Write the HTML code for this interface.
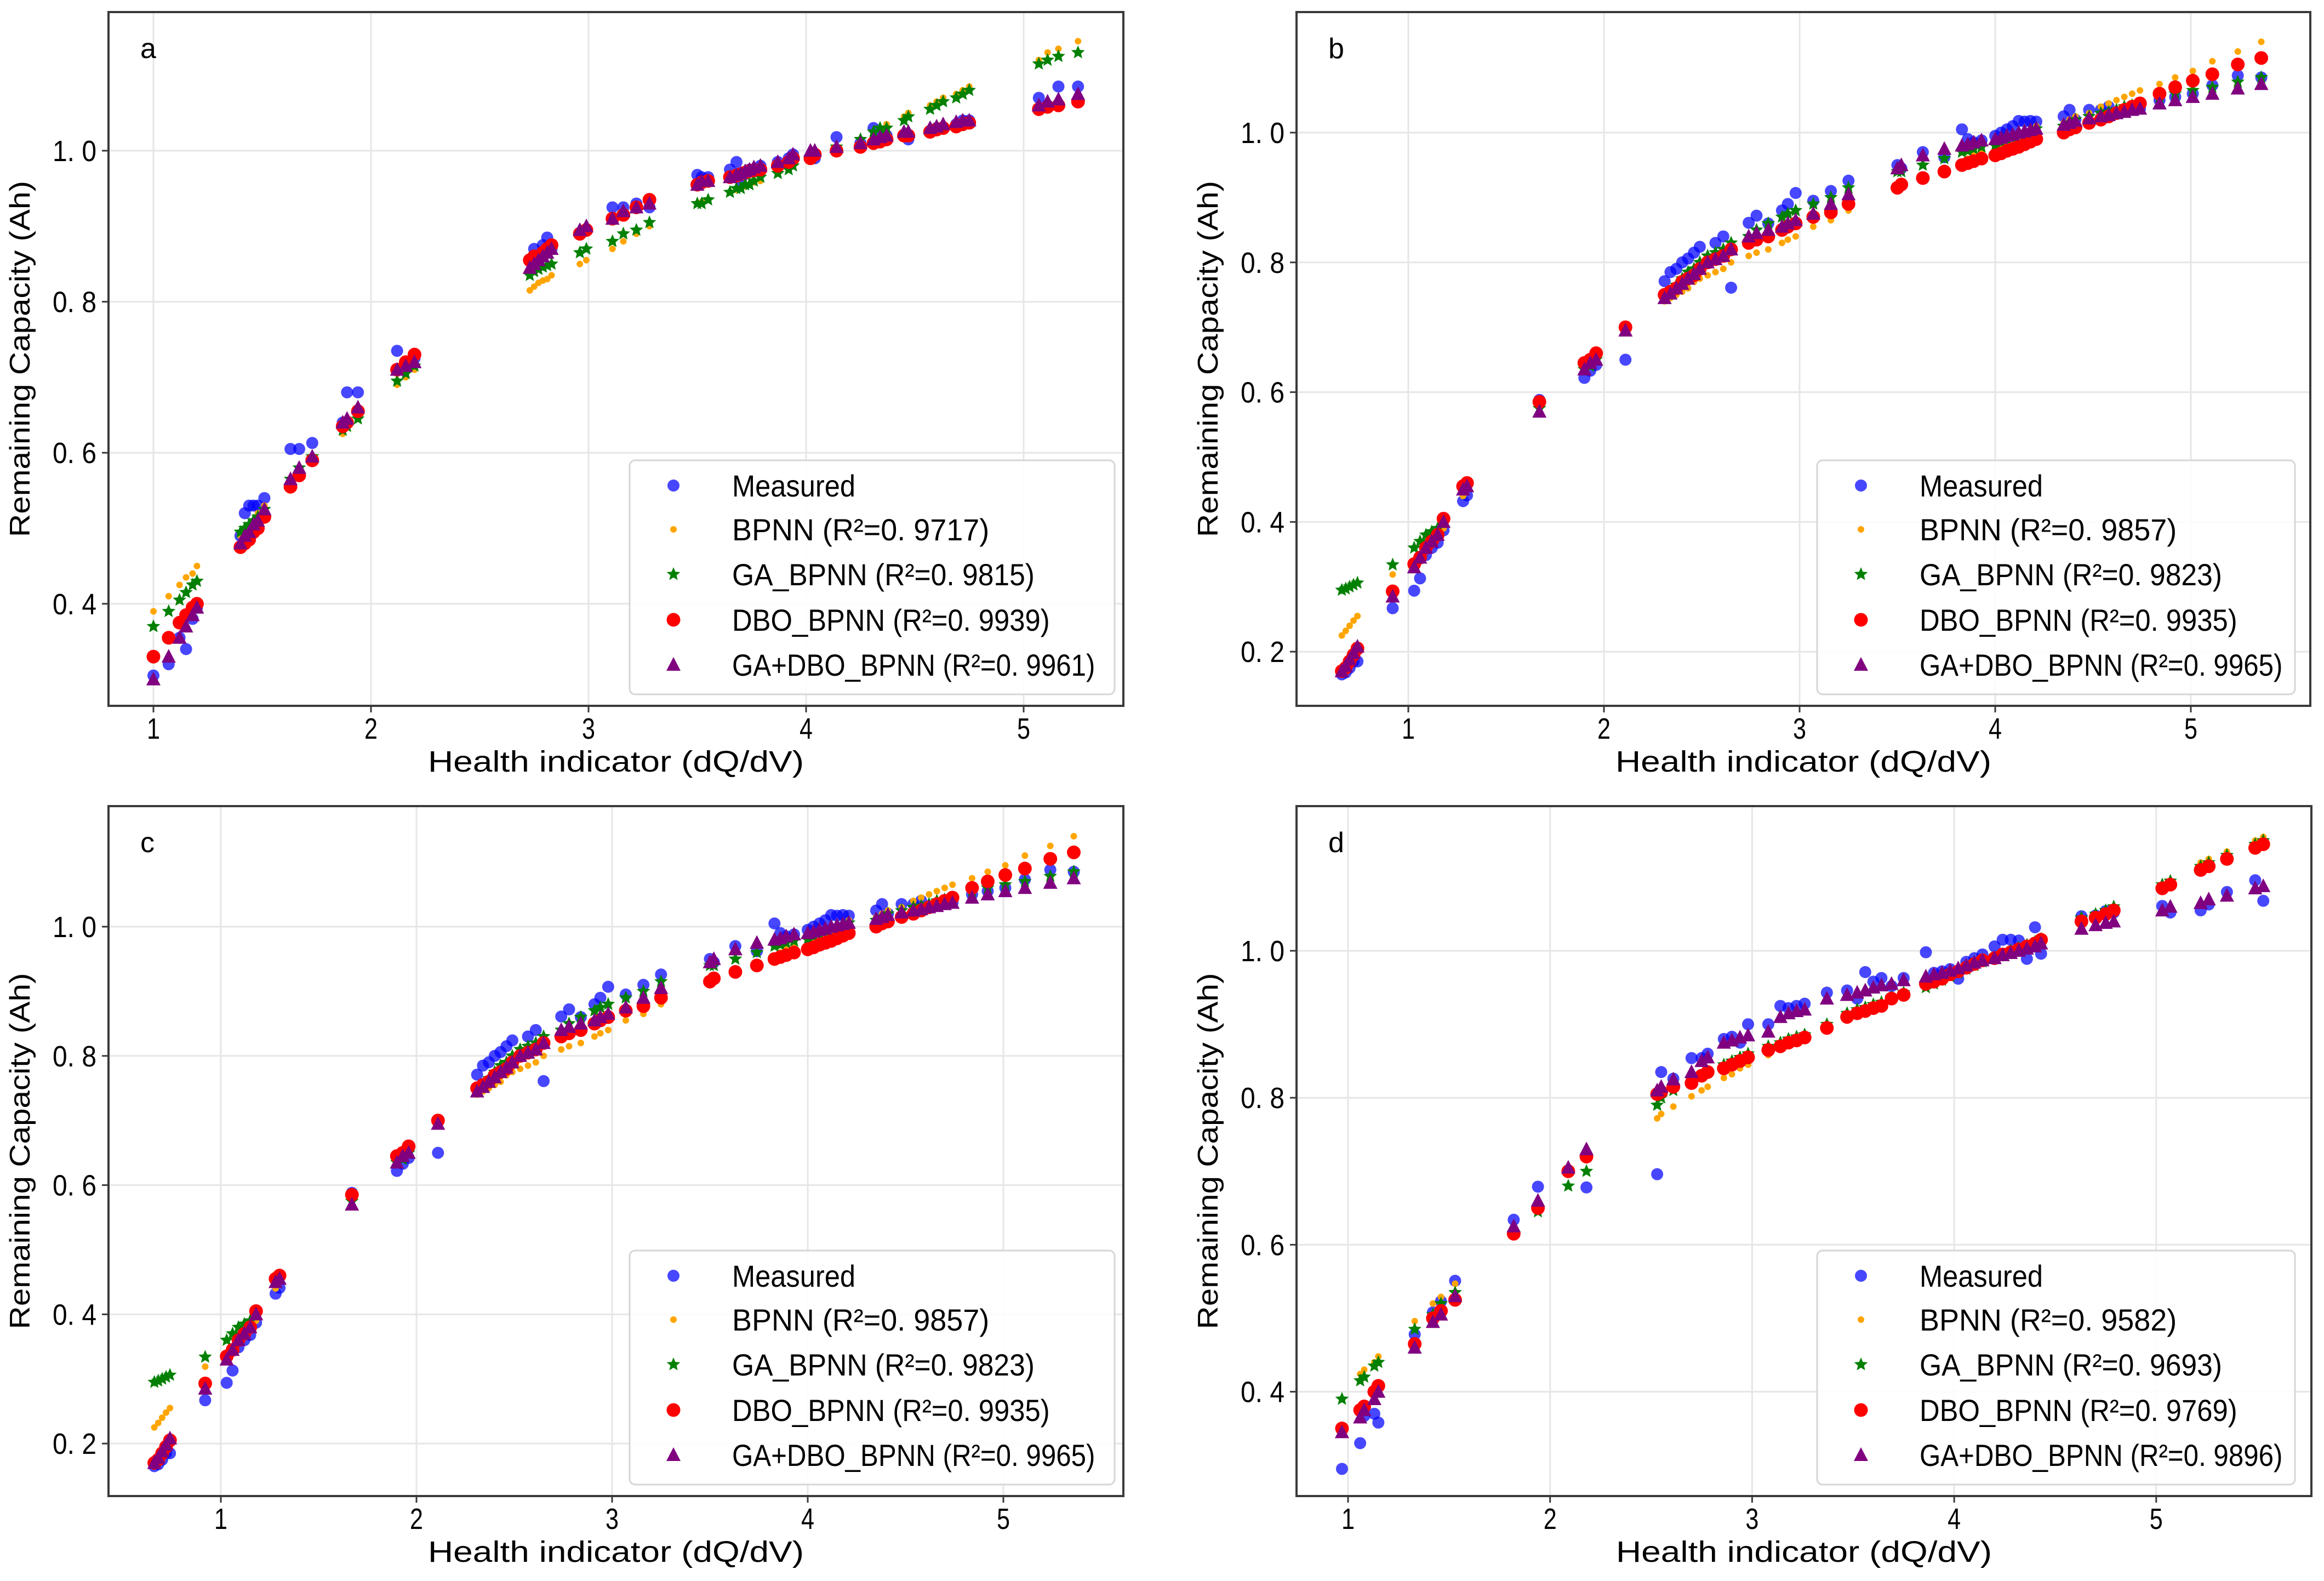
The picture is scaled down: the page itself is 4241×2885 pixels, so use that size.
<!DOCTYPE html>
<html><head><meta charset="utf-8">
<style>
html,body{margin:0;padding:0;background:#fff;}
svg{display:block;}
text{font-family:"Liberation Sans","Noto Sans CJK SC",sans-serif;fill:#000;}
</style></head>
<body>
<svg id="fig" xmlns="http://www.w3.org/2000/svg" width="4241" height="2885" viewBox="0 0 4241 2885"></svg>
<script>
// ---------- Panel a data ----------
const xA=[1.00,1.07,1.12,1.15,1.18,1.20,1.40,1.42,1.44,1.46,1.48,1.51,1.63,1.67,1.73,1.87,1.89,1.94,2.12,2.16,2.20,2.73,2.75,2.77,2.79,2.81,2.83,2.96,2.99,3.11,3.16,3.22,3.28,3.50,3.52,3.55,3.65,3.68,3.70,3.72,3.74,3.76,3.79,3.87,3.92,3.94,4.02,4.04,4.14,4.25,4.31,4.34,4.37,4.45,4.47,4.57,4.60,4.63,4.69,4.72,4.75,5.07,5.11,5.16,5.25];
const measA=[0.305,0.32,0.355,0.34,0.38,0.395,0.49,0.52,0.53,0.53,0.53,0.54,0.605,0.605,0.613,0.64,0.68,0.68,0.735,0.715,0.725,0.855,0.87,0.86,0.875,0.885,0.87,0.89,0.895,0.925,0.925,0.93,0.925,0.968,0.965,0.965,0.975,0.985,0.96,0.97,0.975,0.975,0.98,0.985,0.99,0.995,0.99,0.99,1.018,1.01,1.03,1.02,1.02,1.02,1.015,1.025,1.03,1.03,1.035,1.04,1.04,1.07,1.06,1.085,1.085];
const bpA=[0.39,0.41,0.425,0.435,0.44,0.45,0.49,0.50,0.505,0.51,0.52,0.53,0.565,0.58,0.595,0.625,0.635,0.65,0.69,0.70,0.71,0.815,0.82,0.825,0.828,0.83,0.835,0.85,0.855,0.87,0.88,0.89,0.90,0.93,0.932,0.935,0.945,0.948,0.95,0.953,0.955,0.958,0.96,0.97,0.975,0.98,0.99,0.995,1.005,1.015,1.025,1.03,1.035,1.045,1.05,1.06,1.065,1.07,1.075,1.08,1.085,1.12,1.13,1.135,1.145];
const gaA=[0.37,0.39,0.405,0.415,0.425,0.43,0.495,0.50,0.505,0.51,0.515,0.525,0.565,0.58,0.595,0.63,0.635,0.645,0.695,0.705,0.715,0.835,0.84,0.843,0.846,0.848,0.85,0.865,0.87,0.88,0.89,0.895,0.905,0.93,0.93,0.935,0.945,0.95,0.95,0.955,0.955,0.96,0.965,0.97,0.975,0.98,0.99,0.995,1.005,1.015,1.025,1.03,1.03,1.04,1.045,1.055,1.06,1.065,1.07,1.075,1.08,1.115,1.12,1.125,1.13];
const dboA=[0.33,0.355,0.375,0.385,0.395,0.40,0.475,0.48,0.485,0.495,0.50,0.515,0.555,0.57,0.59,0.635,0.64,0.655,0.71,0.72,0.73,0.855,0.86,0.86,0.865,0.87,0.875,0.89,0.895,0.91,0.915,0.925,0.935,0.955,0.958,0.96,0.965,0.967,0.969,0.971,0.973,0.974,0.975,0.98,0.985,0.99,0.99,0.995,1.0,1.005,1.01,1.012,1.015,1.02,1.02,1.025,1.028,1.03,1.032,1.035,1.037,1.055,1.058,1.06,1.065];
const gadA=[0.30,0.33,0.355,0.37,0.385,0.395,0.48,0.49,0.495,0.505,0.51,0.525,0.565,0.58,0.595,0.64,0.645,0.66,0.71,0.715,0.72,0.845,0.85,0.855,0.86,0.865,0.87,0.895,0.90,0.91,0.92,0.925,0.93,0.955,0.96,0.96,0.965,0.968,0.97,0.973,0.975,0.978,0.98,0.985,0.99,0.995,1.0,1.0,1.005,1.01,1.015,1.018,1.02,1.025,1.025,1.03,1.032,1.035,1.038,1.04,1.04,1.06,1.065,1.068,1.075];
const r2A=["0.9717","0.9815","0.9939","0.9961"];

// ---------- Panel b data ----------
const xB=[0.66,0.68,0.70,0.72,0.74,0.92,1.03,1.06,1.09,1.12,1.15,1.18,1.28,1.30,1.67,1.90,1.93,1.96,2.11,2.31,2.34,2.37,2.40,2.43,2.46,2.49,2.53,2.57,2.61,2.65,2.74,2.78,2.84,2.91,2.94,2.98,3.07,3.16,3.25,3.50,3.52,3.63,3.74,3.83,3.86,3.89,3.93,4.00,4.03,4.06,4.09,4.12,4.15,4.18,4.21,4.35,4.38,4.41,4.48,4.54,4.58,4.62,4.66,4.70,4.74,4.84,4.92,5.01,5.11,5.24,5.36];
const measB=[0.165,0.168,0.175,0.185,0.185,0.267,0.294,0.313,0.349,0.36,0.368,0.387,0.432,0.441,0.588,0.622,0.633,0.642,0.65,0.771,0.785,0.79,0.80,0.806,0.815,0.824,0.80,0.83,0.84,0.761,0.861,0.872,0.86,0.88,0.89,0.907,0.895,0.91,0.926,0.95,0.945,0.97,0.962,1.005,0.99,0.985,0.988,0.995,1.0,1.005,1.01,1.018,1.017,1.018,1.017,1.025,1.035,1.02,1.035,1.035,1.04,1.03,1.035,1.035,1.037,1.05,1.055,1.06,1.073,1.088,1.085];
const bpB=[0.225,0.232,0.24,0.248,0.255,0.319,0.33,0.35,0.36,0.37,0.38,0.39,0.44,0.45,0.575,0.64,0.645,0.655,0.695,0.74,0.745,0.75,0.755,0.76,0.77,0.775,0.78,0.785,0.79,0.80,0.81,0.815,0.82,0.83,0.835,0.84,0.855,0.865,0.88,0.92,0.92,0.935,0.945,0.955,0.96,0.965,0.97,0.975,0.98,0.985,0.99,0.995,1.0,1.005,1.01,1.015,1.02,1.025,1.03,1.04,1.045,1.05,1.055,1.06,1.065,1.075,1.085,1.095,1.11,1.125,1.14];
const gaB=[0.295,0.297,0.30,0.303,0.306,0.334,0.36,0.37,0.38,0.385,0.39,0.40,0.455,0.46,0.575,0.635,0.64,0.65,0.695,0.745,0.755,0.765,0.775,0.785,0.79,0.80,0.81,0.815,0.82,0.83,0.84,0.85,0.86,0.87,0.875,0.88,0.89,0.90,0.915,0.94,0.94,0.95,0.96,0.97,0.972,0.975,0.978,0.98,0.985,0.99,0.993,0.996,1.0,1.003,1.006,1.01,1.015,1.02,1.025,1.03,1.032,1.035,1.04,1.042,1.045,1.055,1.06,1.065,1.07,1.078,1.085];
const dboB=[0.17,0.175,0.185,0.195,0.205,0.293,0.335,0.345,0.36,0.37,0.38,0.405,0.455,0.46,0.585,0.645,0.65,0.66,0.70,0.75,0.755,0.76,0.77,0.775,0.78,0.79,0.80,0.805,0.81,0.82,0.83,0.835,0.84,0.85,0.855,0.86,0.87,0.877,0.89,0.915,0.92,0.93,0.94,0.95,0.953,0.956,0.96,0.965,0.968,0.972,0.975,0.978,0.982,0.986,0.99,1.0,1.005,1.008,1.015,1.02,1.025,1.03,1.035,1.04,1.045,1.06,1.07,1.08,1.09,1.105,1.115];
const gadB=[0.17,0.178,0.188,0.198,0.208,0.285,0.33,0.345,0.36,0.37,0.38,0.40,0.45,0.455,0.57,0.635,0.645,0.65,0.695,0.745,0.752,0.76,0.767,0.775,0.782,0.79,0.80,0.805,0.81,0.82,0.84,0.845,0.85,0.855,0.86,0.865,0.875,0.89,0.905,0.945,0.95,0.965,0.975,0.98,0.982,0.985,0.988,0.99,0.992,0.995,0.997,1.0,1.002,1.004,1.006,1.012,1.015,1.018,1.022,1.025,1.027,1.03,1.032,1.035,1.037,1.045,1.05,1.055,1.06,1.068,1.075];
const r2B=["0.9857","0.9823","0.9935","0.9965"];

// ---------- Panel c data ----------
const xC=[0.66,0.68,0.70,0.72,0.74,0.92,1.03,1.06,1.09,1.12,1.15,1.18,1.28,1.30,1.67,1.90,1.93,1.96,2.11,2.31,2.34,2.37,2.40,2.43,2.46,2.49,2.53,2.57,2.61,2.65,2.74,2.78,2.84,2.91,2.94,2.98,3.07,3.16,3.25,3.50,3.52,3.63,3.74,3.83,3.86,3.89,3.93,4.00,4.03,4.06,4.09,4.12,4.15,4.18,4.21,4.35,4.38,4.41,4.48,4.54,4.58,4.62,4.66,4.70,4.74,4.84,4.92,5.01,5.11,5.24,5.36];
const measC=[0.165,0.168,0.175,0.185,0.185,0.267,0.294,0.313,0.349,0.36,0.368,0.387,0.432,0.441,0.588,0.622,0.633,0.642,0.65,0.771,0.785,0.79,0.80,0.806,0.815,0.824,0.80,0.83,0.84,0.761,0.861,0.872,0.86,0.88,0.89,0.907,0.895,0.91,0.926,0.95,0.945,0.97,0.962,1.005,0.99,0.985,0.988,0.995,1.0,1.005,1.01,1.018,1.017,1.018,1.017,1.025,1.035,1.02,1.035,1.035,1.04,1.03,1.035,1.035,1.037,1.05,1.055,1.06,1.073,1.088,1.085];
const bpC=[0.225,0.232,0.24,0.248,0.255,0.319,0.33,0.35,0.36,0.37,0.38,0.39,0.44,0.45,0.575,0.64,0.645,0.655,0.695,0.74,0.745,0.75,0.755,0.76,0.77,0.775,0.78,0.785,0.79,0.80,0.81,0.815,0.82,0.83,0.835,0.84,0.855,0.865,0.88,0.92,0.92,0.935,0.945,0.955,0.96,0.965,0.97,0.975,0.98,0.985,0.99,0.995,1.0,1.005,1.01,1.015,1.02,1.025,1.03,1.04,1.045,1.05,1.055,1.06,1.065,1.075,1.085,1.095,1.11,1.125,1.14];
const gaC=[0.295,0.297,0.30,0.303,0.306,0.334,0.36,0.37,0.38,0.385,0.39,0.40,0.455,0.46,0.575,0.635,0.64,0.65,0.695,0.745,0.755,0.765,0.775,0.785,0.79,0.80,0.81,0.815,0.82,0.83,0.84,0.85,0.86,0.87,0.875,0.88,0.89,0.90,0.915,0.94,0.94,0.95,0.96,0.97,0.972,0.975,0.978,0.98,0.985,0.99,0.993,0.996,1.0,1.003,1.006,1.01,1.015,1.02,1.025,1.03,1.032,1.035,1.04,1.042,1.045,1.055,1.06,1.065,1.07,1.078,1.085];
const dboC=[0.17,0.175,0.185,0.195,0.205,0.293,0.335,0.345,0.36,0.37,0.38,0.405,0.455,0.46,0.585,0.645,0.65,0.66,0.70,0.75,0.755,0.76,0.77,0.775,0.78,0.79,0.80,0.805,0.81,0.82,0.83,0.835,0.84,0.85,0.855,0.86,0.87,0.877,0.89,0.915,0.92,0.93,0.94,0.95,0.953,0.956,0.96,0.965,0.968,0.972,0.975,0.978,0.982,0.986,0.99,1.0,1.005,1.008,1.015,1.02,1.025,1.03,1.035,1.04,1.045,1.06,1.07,1.08,1.09,1.105,1.115];
const gadC=[0.17,0.178,0.188,0.198,0.208,0.285,0.33,0.345,0.36,0.37,0.38,0.40,0.45,0.455,0.57,0.635,0.645,0.65,0.695,0.745,0.752,0.76,0.767,0.775,0.782,0.79,0.80,0.805,0.81,0.82,0.84,0.845,0.85,0.855,0.86,0.865,0.875,0.89,0.905,0.945,0.95,0.965,0.975,0.98,0.982,0.985,0.988,0.99,0.992,0.995,0.997,1.0,1.002,1.004,1.006,1.012,1.015,1.018,1.022,1.025,1.027,1.03,1.032,1.035,1.037,1.045,1.05,1.055,1.06,1.068,1.075];
const r2C=["0.9857","0.9823","0.9935","0.9965"];

// ---------- Panel d data ----------
const xD=[0.97,1.06,1.08,1.13,1.15,1.33,1.42,1.46,1.53,1.82,1.94,2.09,2.18,2.53,2.55,2.61,2.70,2.75,2.78,2.86,2.90,2.94,2.98,3.08,3.14,3.18,3.22,3.26,3.37,3.47,3.52,3.56,3.60,3.64,3.69,3.75,3.86,3.90,3.94,3.98,4.02,4.06,4.10,4.14,4.20,4.24,4.28,4.32,4.36,4.40,4.43,4.63,4.70,4.75,4.79,5.03,5.07,5.22,5.26,5.35,5.49,5.53];
const measD=[0.295,0.33,0.367,0.37,0.358,0.478,0.508,0.523,0.551,0.634,0.679,0.70,0.678,0.696,0.835,0.826,0.854,0.854,0.86,0.88,0.883,0.875,0.90,0.90,0.925,0.922,0.925,0.928,0.943,0.946,0.935,0.971,0.958,0.963,0.952,0.963,0.998,0.97,0.972,0.975,0.962,0.985,0.99,0.995,1.006,1.015,1.015,1.014,0.989,1.032,0.996,1.047,1.048,1.054,1.052,1.061,1.052,1.055,1.063,1.08,1.096,1.068];
const bpD=[0.35,0.424,0.43,0.44,0.448,0.496,0.52,0.529,0.547,0.615,0.655,0.703,0.715,0.772,0.778,0.788,0.802,0.81,0.815,0.827,0.832,0.84,0.845,0.858,0.868,0.871,0.874,0.88,0.896,0.911,0.915,0.92,0.924,0.928,0.94,0.945,0.954,0.958,0.962,0.966,0.972,0.977,0.983,0.988,0.993,0.997,1.0,1.004,1.008,1.012,1.016,1.045,1.05,1.055,1.06,1.09,1.095,1.12,1.125,1.135,1.15,1.155];
const gaD=[0.39,0.415,0.42,0.435,0.44,0.485,0.505,0.52,0.535,0.615,0.645,0.68,0.70,0.79,0.80,0.81,0.825,0.83,0.835,0.845,0.85,0.855,0.86,0.87,0.875,0.88,0.883,0.886,0.90,0.915,0.92,0.923,0.927,0.93,0.937,0.943,0.95,0.955,0.96,0.965,0.97,0.975,0.98,0.985,0.99,0.995,1.0,1.004,1.008,1.012,1.016,1.045,1.05,1.055,1.06,1.09,1.095,1.115,1.12,1.13,1.145,1.15];
const dboD=[0.35,0.375,0.38,0.40,0.408,0.465,0.50,0.51,0.525,0.615,0.65,0.70,0.72,0.805,0.808,0.815,0.82,0.83,0.835,0.84,0.845,0.85,0.855,0.865,0.87,0.875,0.878,0.882,0.895,0.91,0.915,0.918,0.922,0.925,0.935,0.94,0.955,0.958,0.962,0.968,0.972,0.977,0.982,0.987,0.99,0.995,0.998,1.002,1.006,1.01,1.015,1.04,1.045,1.05,1.055,1.085,1.09,1.11,1.115,1.125,1.14,1.145];
const gadD=[0.345,0.365,0.375,0.39,0.40,0.46,0.495,0.505,0.53,0.625,0.66,0.705,0.73,0.81,0.815,0.825,0.835,0.85,0.855,0.875,0.878,0.882,0.885,0.89,0.91,0.915,0.918,0.92,0.935,0.94,0.943,0.946,0.95,0.953,0.955,0.96,0.965,0.968,0.97,0.973,0.976,0.98,0.984,0.987,0.99,0.994,0.997,1.0,1.003,1.006,1.01,1.03,1.035,1.038,1.04,1.055,1.06,1.065,1.07,1.075,1.085,1.088];
const r2D=["0.9582","0.9693","0.9769","0.9896"];

// ---------- shared tick arrays ----------
const xTicks=[1,2,3,4,5];
const yTicksA=[0.4,0.6,0.8,1.0];
const yTicksB=[0.2,0.4,0.6,0.8,1.0];
const yTicksC=[0.2,0.4,0.6,0.8,1.0];
const yTicksD=[0.4,0.6,0.8,1.0];
const seriesNames=["Measured","BPNN","GA_BPNN","DBO_BPNN","GA+DBO_BPNN"];

const NS="http://www.w3.org/2000/svg";
const svg=document.getElementById('fig');
function mk(tag,attrs,parent){const e=document.createElementNS(NS,tag);for(const k in attrs)e.setAttribute(k,attrs[k]);(parent||svg).appendChild(e);return e;}
function fmt(v){return v.toFixed(1).replace('.', '. ');}

function star(cx,cy,R){const r=R*0.45;let p=[];for(let i=0;i<10;i++){const a=-Math.PI/2+i*Math.PI/5;const rr=i%2?r:R;p.push((cx+rr*Math.cos(a)).toFixed(1)+','+(cy+rr*Math.sin(a)).toFixed(1));}return p.join(' ');}
function drawMarker(g,kind,px,py){
  let e;
  if(kind===0){e=mk('circle',{cx:px,cy:py,r:11,fill:'#0000ff','fill-opacity':0.72},g);}
  else if(kind===1){e=mk('circle',{cx:px,cy:py,r:6,fill:'#ffa500'},g);}
  else if(kind===2){e=mk('polygon',{points:star(px,py,13),fill:'#008000'},g);}
  else if(kind===3){e=mk('circle',{cx:px,cy:py,r:12.5,fill:'#ff0000'},g);}
  else {e=mk('polygon',{points:`${px},${py-14} ${px+13},${py+11} ${px-13},${py+11}`,fill:'#800080'},g);}
  return e;
}

function panel(cfg){
  const g=mk('g',{});
  
  
  const X=v=>cfg.x1+(v-1)*cfg.ux;
  const Y=v=>cfg.y1+(1.0-v)*cfg.uy;
  for(const t of xTicks){const l=mk('line',{x1:X(t),x2:X(t),y1:cfg.top,y2:cfg.bottom,stroke:'#e6e6e6','stroke-width':3},g);
    }
  for(const t of cfg.yTicks){const l=mk('line',{x1:cfg.left,x2:cfg.right,y1:Y(t),y2:Y(t),stroke:'#e6e6e6','stroke-width':3},g);
    }
  const ys=[cfg.meas,cfg.bp,cfg.ga,cfg.dbo,cfg.gad];
  ys.forEach((arr,k)=>{
    const sg=mk('g',{},g);
    
    
    for(let i=0;i<cfg.x.length;i++){
      if(arr[i]===undefined)continue;
      const m=drawMarker(sg,k,X(cfg.x[i]),Y(arr[i]));
      
      
    }
  });
  const fr=mk('rect',{x:cfg.left,y:cfg.top,width:cfg.right-cfg.left,height:cfg.bottom-cfg.top,fill:'none',stroke:'#3a3a3a','stroke-width':4},g);
  
  for(const t of xTicks){
    mk('line',{x1:X(t),x2:X(t),y1:cfg.bottom,y2:cfg.bottom+12,stroke:'#3a3a3a','stroke-width':3},g);
    const tx=mk('text',{x:X(t),y:cfg.bottom+60,'font-size':54,'text-anchor':'middle',textLength:24,lengthAdjust:'spacingAndGlyphs'},g);
    tx.textContent=String(t);
    
  }
  for(const t of cfg.yTicks){
    mk('line',{x1:cfg.left-12,x2:cfg.left,y1:Y(t),y2:Y(t),stroke:'#3a3a3a','stroke-width':3},g);
    const tx=mk('text',{x:cfg.left-102,y:Y(t)+19,'font-size':54,textLength:80,lengthAdjust:'spacingAndGlyphs'},g);
    tx.textContent=fmt(t);
    
  }
  const cx=(cfg.left+cfg.right)/2;
  const xt=mk('text',{x:cx,y:cfg.bottom+120,'font-size':54,'text-anchor':'middle',textLength:686,lengthAdjust:'spacingAndGlyphs'},g);
  xt.textContent='Health indicator (dQ/dV)';
  
  const cy=(cfg.top+cfg.bottom)/2;
  const yx=cfg.left-144;
  const yt=mk('text',{x:yx,y:cy,'font-size':52,'text-anchor':'middle',transform:`rotate(-90 ${yx} ${cy})`,textLength:650,lengthAdjust:'spacingAndGlyphs'},g);
  yt.textContent='Remaining Capacity (Ah)';
  
  const pl=mk('text',{x:cfg.left+58,y:cfg.top+84,'font-size':52},g);
  pl.textContent=cfg.id;
  
  const lg=mk('g',{},g);
  
  const lx=cfg.legLeft, lw=cfg.legW, lb=cfg.bottom-21, lt=lb-427;
  mk('rect',{x:lx,y:lt,width:lw,height:427,rx:10,fill:'#fff','fill-opacity':0.85,stroke:'#d6d6d6','stroke-width':3},lg);
  const rowOff=[-402,-322,-240,-157,-75];
  for(let k=0;k<5;k++){
    const ry=cfg.bottom+rowOff[k];
    const ent=mk('g',{},lg);
    
    drawMarker(ent,k,lx+80,ry);
    const label=k===0?'Measured':`${seriesNames[k]} (R²=${cfg.r2[k-1].replace('0.','0. ')})`;
    const len=k===0?225:label.length*27.6;
    const t=mk('text',{x:lx+187,y:ry+20,'font-size':56,textLength:len,lengthAdjust:'spacingAndGlyphs'},ent);
    t.textContent=label;
  }
}

panel({id:'a',left:198,right:2050,top:22,bottom:1288,x1:280,ux:397,y1:275,uy:1378,yTicks:yTicksA,
  x:xA,meas:measA,bp:bpA,ga:gaA,dbo:dboA,gad:gadA,r2:r2A,legLeft:1149,legW:885});
panel({id:'b',left:2366,right:4216,top:22,bottom:1288,x1:2570,ux:357,y1:242,uy:1184,yTicks:yTicksB,
  x:xB,meas:measB,bp:bpB,ga:gaB,dbo:dboB,gad:gadB,r2:r2B,legLeft:3316,legW:872});
panel({id:'c',left:198,right:2050,top:1471,bottom:2730,x1:403,ux:357,y1:1691,uy:1179,yTicks:yTicksC,
  x:xC,meas:measC,bp:bpC,ga:gaC,dbo:dboC,gad:gadC,r2:r2C,legLeft:1149,legW:885});
panel({id:'d',left:2366,right:4218,top:1471,bottom:2730,x1:2460,ux:368.7,y1:1735,uy:1341,yTicks:yTicksD,
  x:xD,meas:measD,bp:bpD,ga:gaD,dbo:dboD,gad:gadD,r2:r2D,legLeft:3316,legW:872});
</script>
</body></html>
